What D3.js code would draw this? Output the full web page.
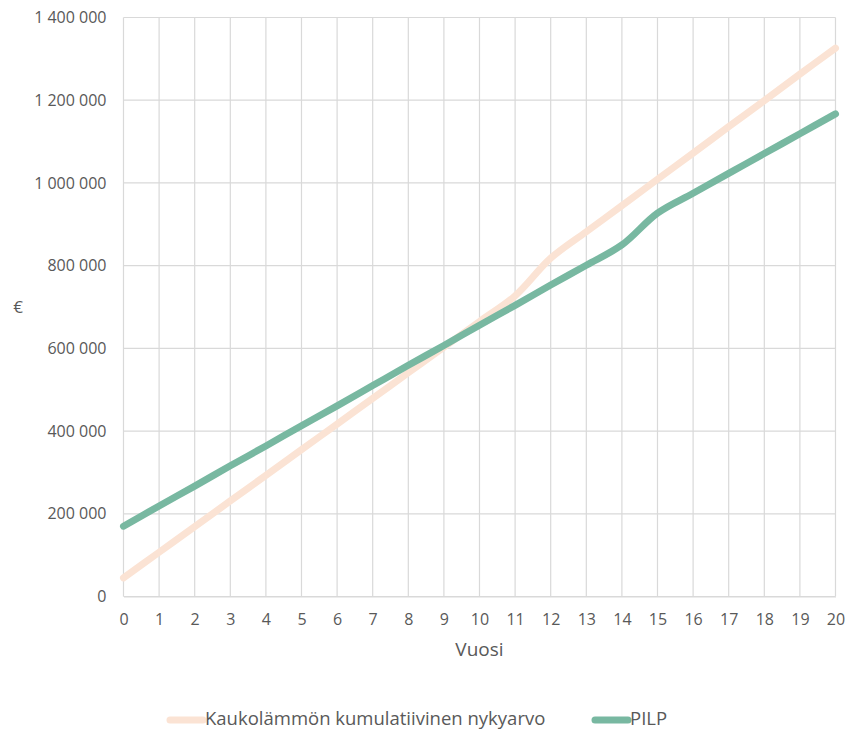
<!DOCTYPE html>
<html>
<head>
<meta charset="utf-8">
<script src="https://cdn.jsdelivr.net/npm/d3@7"></script>
<style>
  body { margin: 0; background: #fff; }
  svg text { font-family: "Open Sans", "Noto Sans", sans-serif; fill: #595959; }
</style>
</head>
<body>
<svg id="chart" width="847" height="733"></svg>
<script>
// Years on the horizontal axis
const years = d3.range(0, 21);
// Cumulative present value of district heating (€)
const kaukolampo = [45000, 107000, 169000, 231000, 293000, 355000, 417000, 479000, 541000, 603000,
  665000, 727000, 818000, 882000, 945000, 1009000, 1072000, 1136000, 1199000, 1263000, 1326000];
// PILP (€)
const pilp = [170000, 219000, 267000, 316000, 364000, 413000, 461000, 510000, 559000, 607000,
  656000, 704000, 753000, 801000, 850000, 927000, 975000, 1023000, 1071000, 1119000, 1167000];
const yTicks = [0, 200000, 400000, 600000, 800000, 1000000, 1200000, 1400000];
const seriesNames = ["Kaukolämmön kumulatiivinen nykyarvo", "PILP"];
const seriesColors = ["#FBE3D4", "#78B8A1"];

const svg = d3.select("#chart");
const m = { left: 123.5, right: 835.5, top: 17.5, bottom: 596.5 };

const x = d3.scaleLinear().domain([0, 20]).range([m.left, m.right]);
const y = d3.scaleLinear().domain([0, 1400000]).range([m.bottom, m.top]);

const fmt = v => d3.format(",")(v).replace(/,/g, " ");

// Gridlines
const grid = svg.append("g").attr("stroke", "#d9d9d9").attr("stroke-width", 1.2);
years.forEach(t => grid.append("line")
  .attr("x1", x(t)).attr("x2", x(t)).attr("y1", m.top).attr("y2", m.bottom));
yTicks.forEach(t => grid.append("line")
  .attr("x1", m.left).attr("x2", m.right).attr("y1", y(t)).attr("y2", y(t)));

// Y axis labels
const yAxis = svg.append("g").attr("transform", `translate(${m.left},0)`)
  .call(d3.axisLeft(y).tickValues(yTicks).tickFormat(fmt).tickSize(0).tickPadding(17));
yAxis.select(".domain").remove();
yAxis.selectAll("text").style("font-size", "16px").attr("fill", "#595959");

// X axis labels
const xAxis = svg.append("g").attr("transform", `translate(0,${m.bottom})`)
  .call(d3.axisBottom(x).tickValues(years).tickFormat(d3.format("d")).tickSize(0).tickPadding(17));
xAxis.select(".domain").attr("stroke", "#d9d9d9").attr("stroke-width", 1.2);
xAxis.selectAll("text").style("font-size", "16px").attr("fill", "#595959");

// Axis titles
svg.append("text").attr("x", (m.left + m.right) / 2).attr("y", 651)
  .attr("text-anchor", "middle").attr("dominant-baseline", "middle")
  .style("font-size", "19px").text("Vuosi");
svg.append("text").attr("x", 18).attr("y", 308)
  .attr("text-anchor", "middle").attr("dominant-baseline", "middle")
  .style("font-size", "17px").text("€");

// Lines
const line = d3.line().x((d, i) => x(years[i])).y(d => y(d)).curve(d3.curveCatmullRom.alpha(0.5));
[kaukolampo, pilp].forEach((s, i) => {
  svg.append("path").datum(s)
    .attr("fill", "none").attr("stroke", seriesColors[i])
    .attr("stroke-width", 7).attr("stroke-linecap", "round").attr("stroke-linejoin", "round")
    .attr("d", line);
});

// Legend
const legendItems = [
  { x: 170, name: seriesNames[0], color: seriesColors[0] },
  { x: 595, name: seriesNames[1], color: seriesColors[1] }
];
legendItems.forEach(it => {
  svg.append("line").attr("x1", it.x).attr("x2", it.x + 33).attr("y1", 720).attr("y2", 720)
    .attr("stroke", it.color).attr("stroke-width", 7).attr("stroke-linecap", "round");
  svg.append("text").attr("x", it.x + 35).attr("y", 720).attr("dominant-baseline", "middle")
    .style("font-size", "18.5px").text(it.name);
});
</script>
</body>
</html>
